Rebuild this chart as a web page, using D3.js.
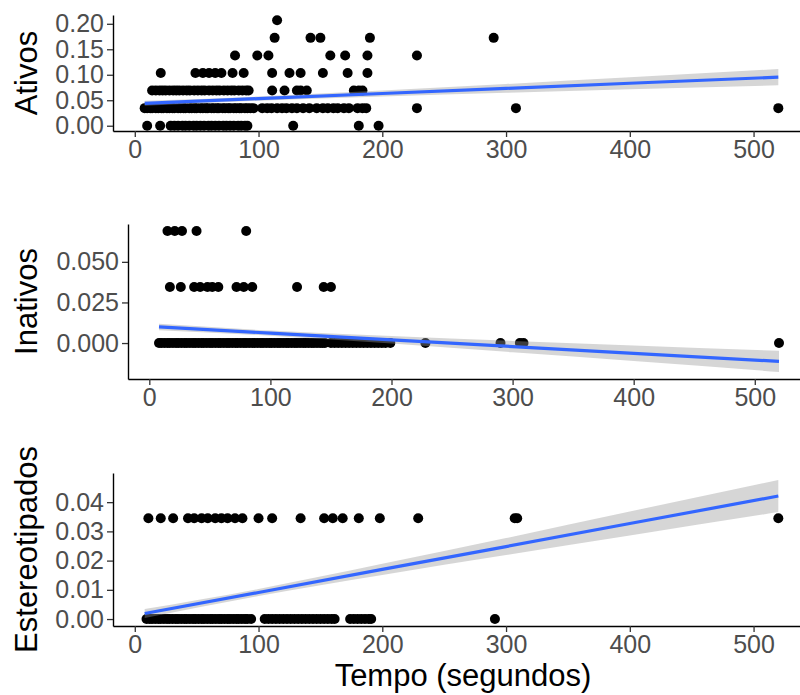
<!DOCTYPE html>
<html lang="pt">
<head>
<meta charset="UTF-8">
<title>Ativos, Inativos, Estereotipados x Tempo</title>
<script src="https://d3js.org/d3.v7.min.js"></script>
<style>
  body { margin: 0; background: #fff; }
  svg { display: block; font-family: "Liberation Sans", Arial, sans-serif; }
  .tick text { fill: #4d4d4d; font-size: 25px; }
  .tick line { stroke: #333; stroke-width: 1.3px; }
  .domain { stroke: #000; stroke-width: 1.4px; }
  .title { font-size: 31px; fill: #000; }
</style>
</head>
<body>
<script>
// values (each proportion is k/29)
const xTicks = [0, 100, 200, 300, 400, 500];
const fitX = [8, 100, 200, 300, 400, 520];

// Ativos: x values (segundos) at each level 0, 1/29 ... 6/29
const ativosX = [
  [10, 20.5, 29, 32, 35, 38.5, 41, 44, 47.5, 50, 53, 56, 59.5, 62, 65, 68, 71.5, 74, 77, 80, 83.5, 86, 89, 91, 128, 181, 197],
  [8, 10, 12.5, 14, 17, 19, 21.5, 23, 26, 28, 30.5, 32, 35, 37, 39.5, 41, 44, 46, 48.5, 50, 53, 55, 57.5, 59, 62, 64, 66.5, 68, 71, 73, 75.5, 77, 80, 82, 84.5, 86, 89, 91, 93.5, 96,
   103, 107, 110.5, 115, 119, 122.5, 127, 131, 136, 141, 147, 152, 156, 160.5, 164, 169, 173, 180, 184, 187, 228, 308, 520],
  [14, 17, 20, 22.5, 25, 28, 31, 33.5, 36, 39, 42, 44.5, 48, 51, 54, 56.5, 60, 63, 66, 68.5, 72, 75, 78, 80.5, 84, 87, 90, 92, 111, 121, 131, 134, 139, 177, 181, 184],
  [21, 49, 55, 60, 65, 70, 79, 88, 111, 125, 134, 152, 172, 188],
  [81, 99, 108, 158, 170, 188, 228],
  [113, 142, 150, 190, 290],
  [115]
];
const ativosFit = [0.0440, 0.0532, 0.0632, 0.0733, 0.0833, 0.0953];
const ativosLo = [0.0391, 0.0491, 0.0575, 0.0647, 0.0714, 0.0793];
const ativosHi = [0.0489, 0.0573, 0.0689, 0.0819, 0.0952, 0.1113];

// Inativos
const inativosX = [
  [8, 10, 12.5, 15, 17, 19.5, 22, 24, 26.5, 29, 31, 33.5, 36, 38, 40.5, 43, 45, 47.5, 50, 52, 54.5, 57, 59, 61.5, 64, 66, 68.5, 71, 73, 75.5, 78, 80, 82.5, 85, 87, 89.5,
   92, 94, 96.5, 99, 101, 103.5, 106, 108, 110.5, 113, 115, 117.5, 120, 122, 124.5, 127, 129, 131.5, 134, 136, 138.5, 141, 143, 145,
   150, 153, 156, 159, 162, 165, 168, 171, 174, 177, 180, 183, 186, 189, 192, 195, 199, 228, 290, 306, 309, 520],
  [17, 26, 37, 42, 48, 52, 57, 72, 78, 85, 122, 144, 150],
  [15, 21, 27, 39, 80]
];
const inativosFit = [0.0099, 0.0061, 0.0020, -0.0022, -0.0063, -0.0113];
const inativosLo = [0.0079, 0.0045, -0.0003, -0.0057, -0.0111, -0.0178];
const inativosHi = [0.0119, 0.0077, 0.0043, 0.0013, -0.0015, -0.0048];

// Estereotipados
const estereoX = [
  [9.5, 12, 14, 16.5, 19, 21, 23.5, 26, 28, 30.5, 33, 35, 37.5, 40, 42, 44.5, 47, 49, 51.5, 54, 56, 58.5, 61, 63, 65.5, 68, 70, 72.5, 75, 77, 79.5, 82, 84, 86.5, 89, 91, 94,
   105, 108, 111, 114, 117, 120, 123, 126, 129, 132, 135, 138, 141, 144, 147, 150, 153, 156, 159, 161.5,
   174, 177, 180, 183, 186, 189, 191, 291],
  [11, 21, 31, 43, 48, 54, 59, 65, 70, 75, 81, 87, 100, 111, 134, 153, 160, 168, 181, 198, 229, 307, 309, 520]
];
const estereoFit = [0.0019, 0.0091, 0.0170, 0.0248, 0.0327, 0.0421];
const estereoLo = [0.0004, 0.0079, 0.0151, 0.0219, 0.0286, 0.0366];
const estereoHi = [0.0034, 0.0103, 0.0189, 0.0277, 0.0368, 0.0476];

const panels = [
  { title: "Ativos", xs: ativosX, fit: ativosFit, lo: ativosLo, hi: ativosHi,
    yTicks: [0, 0.05, 0.10, 0.15, 0.20], fmt: ".2f", left: 113, top: 15, bottom: 131 },
  { title: "Inativos", xs: inativosX, fit: inativosFit, lo: inativosLo, hi: inativosHi,
    yTicks: [0, 0.025, 0.05], fmt: ".3f", left: 128, top: 224, bottom: 379 },
  { title: "Estereotipados", xs: estereoX, fit: estereoFit, lo: estereoLo, hi: estereoHi,
    yTicks: [0, 0.01, 0.02, 0.03, 0.04], fmt: ".2f", left: 113, top: 473, bottom: 626 }
];

const width = 800, height = 695, right = 810;

const svg = d3.select("body").append("svg")
  .attr("width", width)
  .attr("height", height);

svg.append("rect").attr("width", width).attr("height", height).attr("fill", "#fff");

// ggplot-like 5% expansion of a data extent
function expand(ext) {
  const pad = (ext[1] - ext[0]) * 0.05;
  return [ext[0] - pad, ext[1] + pad];
}

panels.forEach(p => {
  const points = [];
  p.xs.forEach((list, k) => list.forEach(x => points.push({ x: x, y: k / 29 })));

  const allX = points.map(d => d.x).concat(fitX);
  const allY = points.map(d => d.y).concat(p.lo, p.hi);

  const x = d3.scaleLinear().domain(expand(d3.extent(allX))).range([p.left, right]);
  const y = d3.scaleLinear().domain(expand(d3.extent(allY))).range([p.bottom, p.top]);

  const g = svg.append("g");

  g.selectAll("circle")
    .data(points)
    .enter()
    .append("circle")
    .attr("cx", d => x(d.x))
    .attr("cy", d => y(d.y))
    .attr("r", 5)
    .attr("fill", "#000");

  const band = fitX.map((fx, i) => ({ x: fx, lo: p.lo[i], hi: p.hi[i], fit: p.fit[i] }));

  g.append("path")
    .datum(band)
    .attr("fill", "#999")
    .attr("fill-opacity", 0.4)
    .attr("d", d3.area()
      .curve(d3.curveMonotoneX)
      .x(d => x(d.x))
      .y0(d => y(d.lo))
      .y1(d => y(d.hi)));

  g.append("path")
    .datum(band)
    .attr("fill", "none")
    .attr("stroke", "#3366ff")
    .attr("stroke-width", 3.2)
    .attr("d", d3.line()
      .x(d => x(d.x))
      .y(d => y(d.fit)));

  g.append("g")
    .attr("transform", `translate(0,${p.bottom})`)
    .call(d3.axisBottom(x).tickValues(xTicks).tickSize(6).tickSizeOuter(0).tickPadding(3));

  g.append("g")
    .attr("transform", `translate(${p.left},0)`)
    .call(d3.axisLeft(y).tickValues(p.yTicks).tickFormat(d3.format(p.fmt)).tickSize(6).tickSizeOuter(0).tickPadding(3));

  g.selectAll(".tick text").attr("font-family", null).attr("font-size", null);

  g.append("text")
    .attr("class", "title")
    .attr("text-anchor", "middle")
    .attr("transform", `translate(37,${(p.top + p.bottom) / 2}) rotate(-90)`)
    .text(p.title);
});

svg.append("text")
  .attr("class", "title")
  .attr("text-anchor", "middle")
  .attr("x", 463)
  .attr("y", 686)
  .text("Tempo (segundos)");
</script>
</body>
</html>
